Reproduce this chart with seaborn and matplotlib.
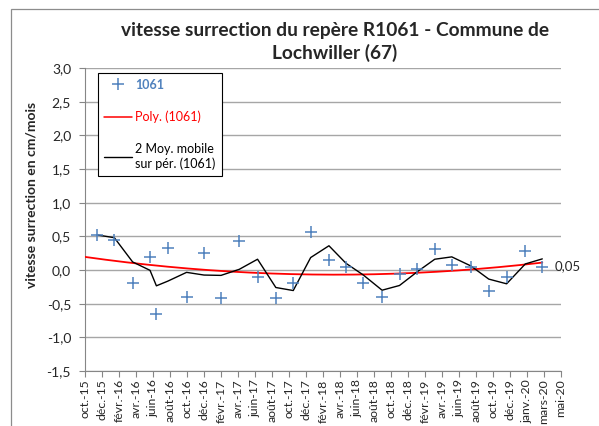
import numpy as np
import pandas as pd
import seaborn as sns
import matplotlib.pyplot as plt
from matplotlib.lines import Line2D
from matplotlib.patches import Rectangle
from matplotlib.ticker import FuncFormatter

# position des mesures en mois depuis oct. 2015
mois = [1.45, 3.45, 5.6, 7.65, 8.4, 9.75, 11.95, 14.0, 16.0, 18.15, 20.3, 22.45, 24.5, 26.55,
        28.7, 30.7, 32.75, 34.95, 37.0, 39.1, 41.15, 43.15, 45.4, 47.5, 49.6, 51.8, 53.8]
vitesse = [0.52, 0.44, -0.20, 0.19, -0.66, 0.33, -0.40, 0.25, -0.41, 0.43, -0.11, -0.41, -0.20, 0.57,
           0.15, 0.05, -0.20, -0.40, -0.06, 0.01, 0.31, 0.08, 0.04, -0.31, -0.10, 0.28, 0.05]
tick_labels = ["oct.-15", "déc.-15", "févr.-16", "avr.-16", "juin-16", "août-16", "oct.-16", "déc.-16",
               "févr.-17", "avr.-17", "juin-17", "août-17", "oct.-17", "déc.-17", "févr.-18", "avr.-18",
               "juin-18", "août-18", "oct.-18", "déc.-18", "févr.-19", "avr.-19", "juin-19", "août-19",
               "oct.-19", "déc.-19", "janv.-20", "mars-20", "mai-20"]

BLUE = "#4F81BD"
RED = "#FF0000"
GRID = "#A6A6A6"

sns.set_style("white")
plt.rcParams["font.family"] = ["Lato", "DejaVu Sans"]

df = pd.DataFrame({"mois": mois, "vitesse": vitesse})
df["moy"] = df["vitesse"].rolling(2, min_periods=1).mean()

# courbe de tendance polynomiale (ordre 2)
coef = np.polyfit(df["mois"], df["vitesse"], 2)
trend = pd.DataFrame({"mois": np.linspace(0, mois[-1], 200)})
trend["poly"] = np.polyval(coef, trend["mois"])

fig = plt.figure(figsize=(5.99, 4.26), dpi=100)
ax = fig.add_axes([85 / 599, 1 - 371 / 426, 476 / 599, 303 / 426])

sns.lineplot(data=trend, x="mois", y="poly", color=RED, lw=1.3, ax=ax, zorder=3)
sns.lineplot(data=df, x="mois", y="moy", color="black", lw=1.0, ax=ax, zorder=4)
sns.scatterplot(data=df, x="mois", y="vitesse", marker="+", color=BLUE, s=70, linewidth=1.1,
                ax=ax, zorder=5)

last = df.iloc[-1]
ax.annotate(f"{last['vitesse']:.2f}".replace(".", ","), (last["mois"], last["vitesse"]),
            xytext=(9, 0), textcoords="offset points", va="center", ha="left", fontsize=9.5)

ax.set_xlim(0, 56)
ax.set_ylim(-1.5, 3.0)
ax.set_xticks(np.arange(0, 57, 2))
ax.set_xticklabels(tick_labels, rotation=90, fontsize=8.8)
ax.set_yticks(np.arange(-1.5, 3.01, 0.5))
ax.yaxis.set_major_formatter(FuncFormatter(lambda v, p: f"{v:.1f}".replace(".", ",")))
ax.tick_params(axis="y", labelsize=10, length=4, width=0.8, color="#868686", pad=6, left=True)
ax.tick_params(axis="x", length=4, width=0.8, color="#868686", pad=2, bottom=True)
ax.grid(axis="y", color=GRID, lw=1.0)
ax.set_axisbelow(True)
ax.set_xlabel("")
ax.set_ylabel("")
for side in ["top", "right"]:
    ax.spines[side].set_visible(False)
for side in ["left", "bottom"]:
    ax.spines[side].set_color("#868686")
    ax.spines[side].set_linewidth(0.8)

handles = [
    Line2D([], [], marker="+", linestyle="none", color=BLUE, markersize=9, markeredgewidth=1.1),
    Line2D([], [], color=RED, lw=1.1),
    Line2D([], [], color="black", lw=1.0),
]
labels = ["1061", "Poly. (1061)", "2 Moy. mobile\nsur pér. (1061)"]
leg = ax.legend(handles, labels, loc="upper left", bbox_to_anchor=(0.027, 0.985), fontsize=9,
                frameon=True, fancybox=False, edgecolor="black", framealpha=1, borderpad=0.5,
                labelspacing=1.6, handlelength=2.2, handletextpad=0.3, borderaxespad=0)
leg.get_frame().set_linewidth(0.8)
for txt, col in zip(leg.get_texts(), [BLUE, RED, "black"]):
    txt.set_color(col)
    txt.set_multialignment("left")
leg.get_texts()[0].set_fontweight("bold")

fig.text(335 / 599, 1 - 42 / 426, "vitesse surrection du repère R1061 - Commune de\nLochwiller (67)",
         ha="center", va="center", fontsize=13.8, fontweight="bold", linespacing=1.3)
fig.text(32 / 599, 1 - 195 / 426, "vitesse surrection en cm/mois", rotation=90,
         ha="center", va="center", fontsize=10, fontweight="bold")

fig.patches.append(Rectangle((11 / 599, -0.5), 2, 1.5 - 9 / 426, transform=fig.transFigure,
                             fill=False, edgecolor="#8C8C8C", lw=0.9))

fig.savefig("out.png", dpi=100)
